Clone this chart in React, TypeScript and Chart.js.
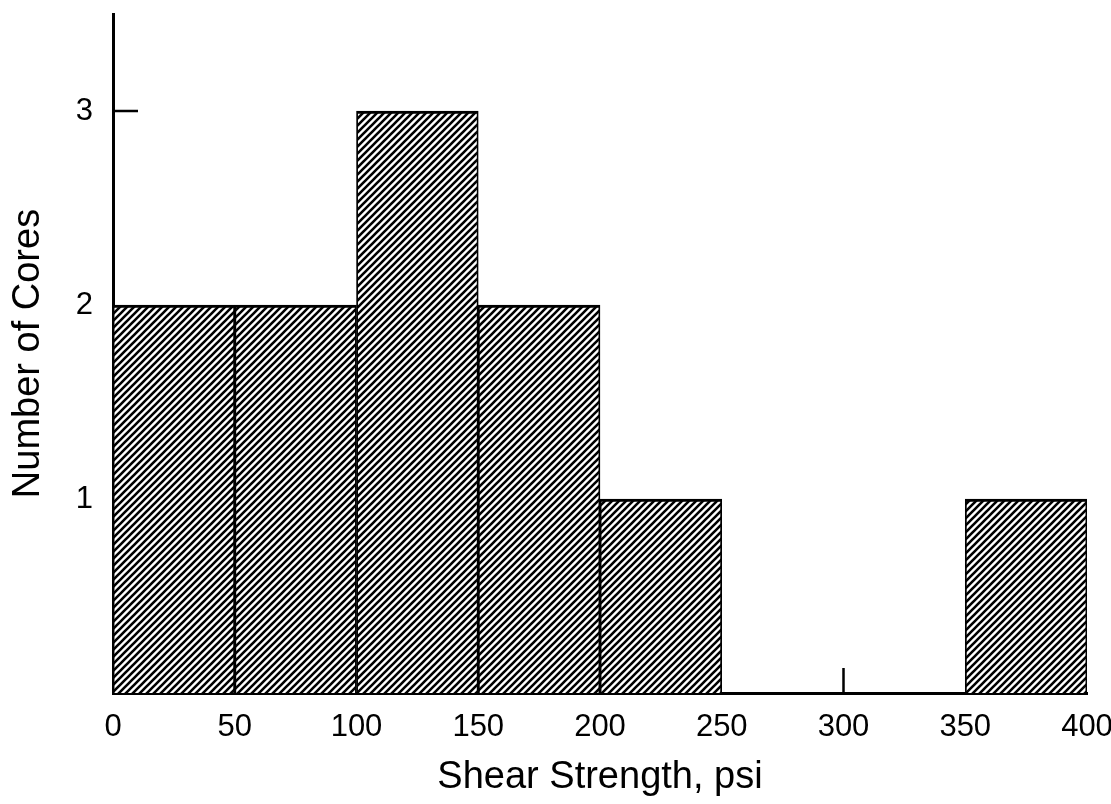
import React, { useEffect, useRef } from "react";
import { Chart, registerables } from "chart.js";

Chart.register(...registerables);

// Histogram bins (lower edges, psi) and counts
const binStarts = [0, 50, 100, 150, 200, 250, 300, 350];
const binWidth = 50;
const coreCounts = [2, 2, 3, 2, 1, 0, 0, 1];
const xTickValues = [0, 50, 100, 150, 200, 250, 300, 350, 400];
const yTickValues = [1, 2, 3];
const xTitle = "Shear Strength, psi";
const yTitle = "Number of Cores";

const FONT = "'Liberation Sans', Arial, Helvetica, sans-serif";

function makeHatch(): CanvasPattern | string {
  const s = 7;
  const c = document.createElement("canvas");
  c.width = s;
  c.height = s;
  const g = c.getContext("2d");
  if (!g) return "#888";
  g.fillStyle = "#ffffff";
  g.fillRect(0, 0, s, s);
  g.strokeStyle = "#000000";
  g.lineWidth = 2.6;
  g.beginPath();
  g.moveTo(-1, s + 1);
  g.lineTo(s + 1, -1);
  g.moveTo(-2, 2);
  g.lineTo(2, -2);
  g.moveTo(s - 2, s + 2);
  g.lineTo(s + 2, s - 2);
  g.stroke();
  const p = g.createPattern(c, "repeat");
  return p || "#888";
}

// A tick is hidden in the original where a bar covers it
function xTickCovered(v: number): boolean {
  return binStarts.some(
    (s, i) => coreCounts[i] > 0 && (s === v || s + binWidth === v)
  );
}
function yTickCovered(v: number): boolean {
  return coreCounts[0] >= v;
}

const inwardTicks = {
  id: "inwardTicks",
  beforeDatasetsDraw(chart: any) {
    const { ctx, chartArea, scales } = chart;
    const x = scales.x;
    const y = scales.y;
    ctx.save();
    ctx.strokeStyle = "#000";
    ctx.lineWidth = 2.5;
    ctx.beginPath();
    y.ticks.forEach((t: any) => {
      if (yTickCovered(t.value)) return;
      const py = y.getPixelForValue(t.value);
      ctx.moveTo(chartArea.left, py);
      ctx.lineTo(chartArea.left + 25, py);
    });
    x.ticks.forEach((t: any) => {
      if (xTickCovered(t.value)) return;
      const px = x.getPixelForValue(t.value);
      ctx.moveTo(px, chartArea.bottom);
      ctx.lineTo(px, chartArea.bottom - 25);
    });
    ctx.stroke();
    ctx.restore();
  },
};

export default function App() {
  const ref = useRef<HTMLCanvasElement | null>(null);

  useEffect(() => {
    if (!ref.current) return;
    const hatch = makeHatch();
    const points = binStarts.map((s, i) => ({ x: s + binWidth / 2, y: coreCounts[i] }));
    const chart = new Chart(ref.current, {
      type: "bar",
      data: {
        datasets: [
          {
            data: points as any,
            backgroundColor: hatch as any,
            borderColor: "#000",
            borderWidth: { top: 3, left: 1.8, right: 1.8, bottom: 0 } as any,
            borderSkipped: false,
            barPercentage: 1,
            categoryPercentage: 1,
          },
        ],
      },
      options: {
        animation: false,
        responsive: true,
        maintainAspectRatio: false,
        layout: { padding: { top: 14, right: 24, left: 0, bottom: 0 } },
        plugins: { legend: { display: false }, tooltip: { enabled: false } },
        scales: {
          x: {
            type: "linear",
            min: 0,
            max: 400,
            offset: false,
            grid: { display: false, drawTicks: false, offset: false },
            border: { display: true, color: "#000", width: 3 },
            afterBuildTicks: (s: any) => {
              s.ticks = xTickValues.map((v) => ({ value: v }));
            },
            afterFit: (s: any) => {
              s.height = 111;
              s.paddingLeft = 0;
              s.paddingRight = 0;
            },
            ticks: {
              color: "#000",
              padding: 16,
              maxRotation: 0,
              autoSkip: false,
              font: { family: FONT, size: 31 },
            },
            title: {
              display: true,
              text: xTitle,
              color: "#000",
              font: { family: FONT, size: 38, lineHeight: 1 },
              padding: { top: 8, bottom: 7 },
            },
          },
          y: {
            type: "linear",
            min: 0,
            max: 3.5,
            grid: { display: false, drawTicks: false },
            border: { display: true, color: "#000", width: 3 },
            afterBuildTicks: (s: any) => {
              s.ticks = yTickValues.map((v) => ({ value: v }));
            },
            afterFit: (s: any) => {
              s.width = 113;
              s.paddingTop = 0;
              s.paddingBottom = 0;
            },
            ticks: {
              color: "#000",
              padding: 20,
              font: { family: FONT, size: 31 },
            },
            title: {
              display: true,
              text: yTitle,
              color: "#000",
              font: { family: FONT, size: 38, lineHeight: 1 },
              padding: { top: 10, bottom: 10 },
            },
          },
        },
      },
      plugins: [inwardTicks],
    });
    return () => chart.destroy();
  }, []);

  return (
    <div
      style={{
        position: "absolute",
        left: 0,
        top: 0,
        width: 1111,
        height: 804,
        background: "#fff",
      }}
    >
      <canvas ref={ref} />
    </div>
  );
}
